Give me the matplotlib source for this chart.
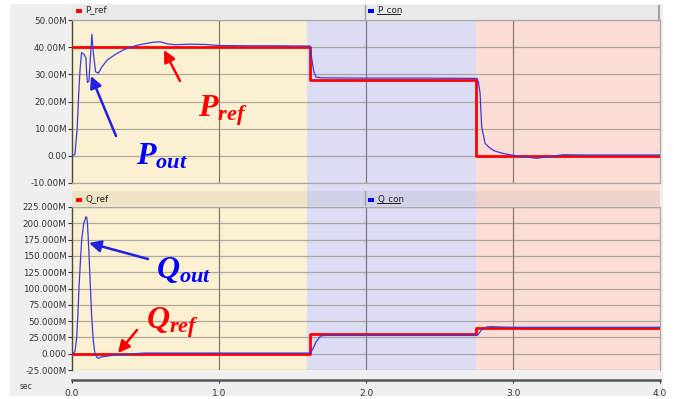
import matplotlib
matplotlib.use("Agg")
import matplotlib.pyplot as plt
from matplotlib.patches import Rectangle
from matplotlib.lines import Line2D

# ---------------- data ----------------
t_ref = [0.0, 1.62, 2.75, 4.0]
P_ref = [40.0, 28.0, 0.0, 0.0]          # MW (M)
Q_ref = [0.0, 30.0, 40.0, 40.0]         # M

t_pcon = [0.0, 0.02, 0.035, 0.045, 0.055, 0.065, 0.08, 0.095, 0.1, 0.105, 0.115,
          0.125, 0.135, 0.145, 0.16, 0.18, 0.2, 0.24, 0.3, 0.35, 0.4, 0.45, 0.5,
          0.55, 0.6, 0.65, 0.7, 0.8, 0.9, 1.0, 1.2, 1.4, 1.62, 1.63, 1.645, 1.66,
          1.7, 2.0, 2.4, 2.755, 2.765, 2.776, 2.787, 2.81, 2.84, 2.87, 2.93, 3.0,
          3.07, 3.16, 3.25, 3.34, 3.5, 4.0]
P_con = [0.0, 0.5, 10.0, 22.0, 32.0, 38.0, 37.5, 36.0, 30.0, 27.0, 27.5,
         36.0, 44.7, 38.0, 31.0, 30.4, 32.5, 35.3, 37.5, 39.0, 40.0, 40.8, 41.3,
         41.8, 42.0, 41.2, 40.9, 41.1, 41.0, 40.6, 40.5, 40.5, 40.4, 36.0, 31.0, 29.0,
         28.7, 28.6, 28.6, 28.5, 27.0, 23.0, 10.7, 4.6, 3.0, 1.9, 0.9, 0.2,
         -0.3, -0.9, -0.3, 0.4, 0.3, 0.3]

t_qcon = [0.0, 0.02, 0.032, 0.04, 0.048, 0.058, 0.066, 0.08, 0.095, 0.1, 0.105,
          0.111, 0.12, 0.134, 0.145, 0.156, 0.17, 0.18, 0.2, 0.26, 0.35, 0.5, 1.0,
          1.622, 1.64, 1.66, 1.69, 1.72, 2.0, 2.5, 2.755, 2.765, 2.78, 2.8, 2.82,
          2.86, 2.9, 3.0, 4.0]
Q_con = [0.0, 3.0, 25.0, 60.0, 103.0, 145.0, 175.0, 200.0, 210.0, 209.0, 200.0,
         175.0, 130.0, 56.0, 20.0, 0.0, -6.0, -7.0, -5.0, -3.0, -1.0, 1.0, 1.0,
         1.0, 8.0, 18.0, 27.0, 28.0, 28.0, 28.0, 28.0, 30.0, 35.0, 39.0, 41.0,
         41.5, 41.0, 40.5, 40.5]

p_ticks = [50, 40, 30, 20, 10, 0, -10]
p_labels = ["50.00M", "40.00M", "30.00M", "20.00M", "10.00M", "0.00", "-10.00M"]
q_ticks = [225, 200, 175, 150, 125, 100, 75, 50, 25, 0, -25]
q_labels = ["225.000M", "200.000M", "175.000M", "150.000M", "125.000M", "100.000M",
            "75.000M", "50.000M", "25.000M", "0.000", "-25.000M"]
x_ticks = [0.0, 1.0, 2.0, 3.0, 4.0]
x_labels = ["0.0", "1.0", "2.0", "3.0", "4.0"]

bands = [(0.0, 1.6, "#FBF0D2"), (1.6, 2.75, "#DCDCF4"), (2.75, 4.0, "#FCDDD6")]

# ---------------- layout ----------------
W, H = 674, 399
fig = plt.figure(figsize=(W / 100, H / 100), dpi=100)
fig.patch.set_facecolor("white")

def box(x0, y0, x1, y1):
    """pixel box (top-left origin) -> figure fraction rect"""
    return [x0 / W, 1 - y1 / H, (x1 - x0) / W, (y1 - y0) / H]

# grey panel background
fig.patches.append(Rectangle((10 / W, 1 - 396 / H), 653 / W, 392 / H,
                             transform=fig.transFigure, facecolor="#EFEFEF",
                             edgecolor="none", zorder=-10))

XL, XR = 72, 660

# band background axis covering both plots
axbg = fig.add_axes(box(XL, 20, XR, 370), zorder=0)
axbg.set_xlim(0, 4)
axbg.set_ylim(0, 1)
for a, b, c in bands:
    axbg.axvspan(a, b, color=c, lw=0)
axbg.axis("off")

# darker overlay for bottom header strip
hdr2 = fig.add_axes(box(XL, 191, XR, 206), zorder=1)
hdr2.set_xlim(0, 1); hdr2.set_ylim(0, 1)
hdr2.add_patch(Rectangle((0, 0), 1, 1, facecolor="black", alpha=0.05, lw=0))
hdr2.axvline((365 - XL) / (XR - XL), color="#A0A0A0", lw=1)
hdr2.axis("off")

# top header strip
hdr1 = fig.add_axes(box(XL, 5, XR, 20), zorder=1)
hdr1.set_xlim(0, 1); hdr1.set_ylim(0, 1)
hdr1.add_patch(Rectangle((0, 0), 1, 1, facecolor="#E9E9E9", lw=0))
hdr1.axvline((365 - XL) / (XR - XL), color="#A0A0A0", lw=1)
hdr1.axvline(0.999, color="#A0A0A0", lw=1.5)
hdr1.axis("off")

ax1 = fig.add_axes(box(XL, 20, XR, 183), zorder=2)
ax2 = fig.add_axes(box(XL, 207, XR, 370), zorder=2)

grid_col = "#9C9890"
for ax, yt, yl, ylim in [(ax1, p_ticks, p_labels, (-10, 50)),
                         (ax2, q_ticks, q_labels, (-25, 225))]:
    ax.set_facecolor("none")
    ax.set_xlim(0, 4)
    ax.set_ylim(*ylim)
    ax.set_yticks(yt)
    ax.set_yticklabels(yl)
    ax.tick_params(axis="y", direction="out", length=3, width=0.8, pad=1,
                   labelsize=6.3, colors="#333333")
    for y in yt:
        ax.axhline(y, color=grid_col, lw=0.9, alpha=0.8, zorder=1)
    for x in [1.0, 2.0, 3.0]:
        ax.axvline(x, color="#7F7B74", lw=0.9, zorder=1)
    for s in ["top", "right", "bottom"]:
        ax.spines[s].set_color("#A8A8A8")
        ax.spines[s].set_linewidth(0.9)
    ax.spines["left"].set_color("#4A4A3A")
    ax.spines["left"].set_linewidth(1.0)

ax1.tick_params(axis="x", bottom=False, labelbottom=False)
ax2.set_xticks(x_ticks)
ax2.set_xticklabels(x_labels)
ax2.spines["bottom"].set_position(("outward", 7))
ax2.spines["bottom"].set_color("#555555")
ax2.spines["bottom"].set_linewidth(1.8)
ax2.tick_params(axis="x", direction="out", length=2, width=0.8, pad=5,
                labelsize=6.5, colors="#333333")

# series
ax1.step(t_ref, P_ref, where="post", color="#FF0000", lw=2.0, zorder=3)
ax1.plot(t_pcon, P_con, color="#3A3ADC", lw=0.9, zorder=4)
ax2.step(t_ref, Q_ref, where="post", color="#FF0000", lw=2.0, zorder=3)
ax2.plot(t_qcon, Q_con, color="#3A3ADC", lw=0.9, zorder=4)

# header legends
def fpx(x, y):
    return (x / W, 1 - y / H)

def hdr_label(x, y, txt, col, underline=False):
    fig.patches.append(Rectangle(fpx(x, y + 2), 6 / W, 4 / H, transform=fig.transFigure,
                                 facecolor=col, edgecolor="none", zorder=5))
    fig.text(*fpx(x + 9, y + 1), txt, fontsize=6.3, color="#222222",
             va="baseline", ha="left", zorder=6)
    if underline:
        fig.lines.append(Line2D([(x + 9) / W, (x + 32) / W],
                                [1 - (y + 3) / H, 1 - (y + 3) / H],
                                transform=fig.transFigure, color="#222222", lw=0.7))

hdr_label(76, 11, "P_ref", "#FF0000")
hdr_label(368, 11, "P_con", "#0000FF", underline=True)
hdr_label(76, 200, "Q_ref", "#FF0000")
hdr_label(368, 200, "Q_con", "#0000FF", underline=True)

fig.text(*fpx(20, 389), "sec", fontsize=5.5, color="#333333", va="baseline", ha="left")

# annotations
plt.rcParams["mathtext.fontset"] = "custom"
plt.rcParams["mathtext.it"] = "Liberation Serif:italic:bold"
plt.rcParams["mathtext.rm"] = "Liberation Serif:bold"

def label(x, y, txt, col):
    fig.text(*fpx(x, y), txt, fontsize=23, color=col, va="baseline", ha="left",
             zorder=10)

def arrow(x0, y0, x1, y1, col):
    fig.add_artist(matplotlib.patches.FancyArrowPatch(
        fpx(x0, y0), fpx(x1, y1), transform=fig.transFigure,
        arrowstyle="-|>,head_length=7,head_width=3.5", color=col, lw=1.8,
        zorder=10, shrinkA=0, shrinkB=0))

label(198, 117, r"$P_{ref}$", "#FF0000")
arrow(180, 81, 164, 50, "#FF0000")
label(136, 165, r"$P_{out}$", "#0000FF")
arrow(116, 136, 91, 76, "#2020E0")
label(156, 278, r"$Q_{out}$", "#0000FF")
arrow(148, 259, 89, 243, "#2020E0")
label(146, 328, r"$Q_{ref}$", "#FF0000")
arrow(137, 330, 118, 353, "#FF0000")

fig.savefig("out.png", dpi=100)
